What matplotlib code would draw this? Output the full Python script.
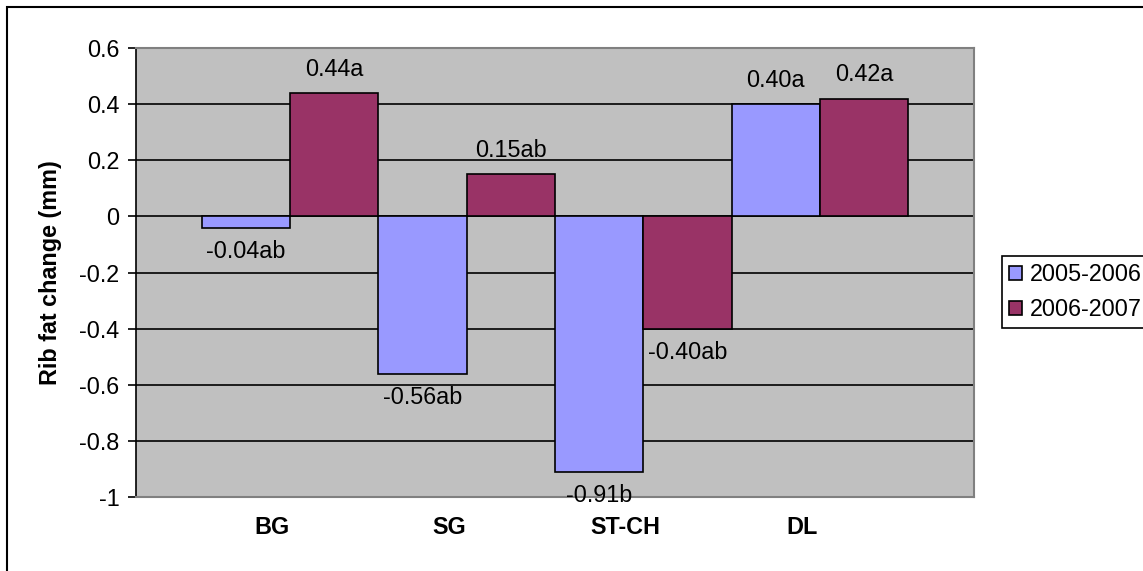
import matplotlib
matplotlib.use("Agg")
import matplotlib.pyplot as plt
from matplotlib.patches import Rectangle
import numpy as np

categories = ["BG", "SG", "ST-CH", "DL"]
series_names = ["2005-2006", "2006-2007"]
values_0506 = [-0.04, -0.56, -0.91, 0.40]
values_0607 = [0.44, 0.15, -0.40, 0.42]
labels_0506 = ["-0.04ab", "-0.56ab", "-0.91b", "0.40a"]
labels_0607 = ["0.44a", "0.15ab", "-0.40ab", "0.42a"]
yticks = [0.6, 0.4, 0.2, 0, -0.2, -0.4, -0.6, -0.8, -1]
ytick_labels = ["0.6", "0.4", "0.2", "0", "-0.2", "-0.4", "-0.6", "-0.8", "-1"]

plt.rcParams['font.family'] = ['Liberation Sans', 'DejaVu Sans']
FS = 16.8

W, H = 1143, 571
fig = plt.figure(figsize=(W / 100, H / 100), dpi=100)
fig.patch.set_facecolor("white")

# outer chart border (right and bottom edges fall outside the image)
fig.patches.append(Rectangle((7 / W, -0.1), 2, 1.1 - 7 / H, transform=fig.transFigure,
                             fill=False, edgecolor="black", linewidth=1.5))

ax = fig.add_axes([136 / W, 1 - 497 / H, (974 - 136) / W, (497 - 48) / H])
ax.set_facecolor("#C0C0C0")

x = np.arange(len(categories))
bw = 0.5
c1, c2 = "#9999FF", "#993366"
b1 = ax.bar(x - bw / 2, values_0506, bw, color=c1, edgecolor="black", linewidth=1.2,
            label=series_names[0], zorder=3)
b2 = ax.bar(x + bw / 2, values_0607, bw, color=c2, edgecolor="black", linewidth=1.2,
            label=series_names[1], zorder=3)

for bars, labs, vals in ((b1, labels_0506, values_0506), (b2, labels_0607, values_0607)):
    for bar, lab, v in zip(bars, labs, vals):
        cx = bar.get_x() + bar.get_width() / 2
        off = 17 if v >= 0 else -17
        ax.annotate(lab, (cx, v), xytext=(0, off), textcoords="offset points",
                    ha="center", va="center", fontsize=FS, zorder=4)

ax.set_ylim(-1, 0.6)
ax.set_xlim(-0.873, 3.873)
ax.set_yticks(yticks)
ax.set_yticklabels(ytick_labels, fontsize=FS)
ax.yaxis.grid(True, color="black", linewidth=1.2, zorder=1)
ax.set_axisbelow(True)
ax.tick_params(axis="y", length=6, width=1.2, pad=6, color="black")
ax.set_xticks(x - 0.1)
ax.set_xticklabels(categories, fontsize=FS, fontweight="bold")
ax.tick_params(axis="x", length=0, pad=14)

for s in ["top", "right", "bottom"]:
    ax.spines[s].set_color("#808080")
    ax.spines[s].set_linewidth(1.5)
ax.spines["left"].set_color("black")
ax.spines["left"].set_linewidth(1.2)

ax.set_ylabel("Rib fat change (mm)", fontsize=FS, fontweight="bold", labelpad=12)

leg = fig.legend(handles=[b1, b2], labels=series_names, loc="center left",
                 bbox_to_anchor=(1002 / W, 1 - 292 / H), fontsize=FS,
                 frameon=True, fancybox=False, edgecolor="black", framealpha=1,
                 handlelength=0.55, handleheight=0.55, handletextpad=0.35,
                 borderpad=0.3, labelspacing=0.5, borderaxespad=0)
leg.get_frame().set_linewidth(1.2)

fig.savefig("out.png", dpi=100)
